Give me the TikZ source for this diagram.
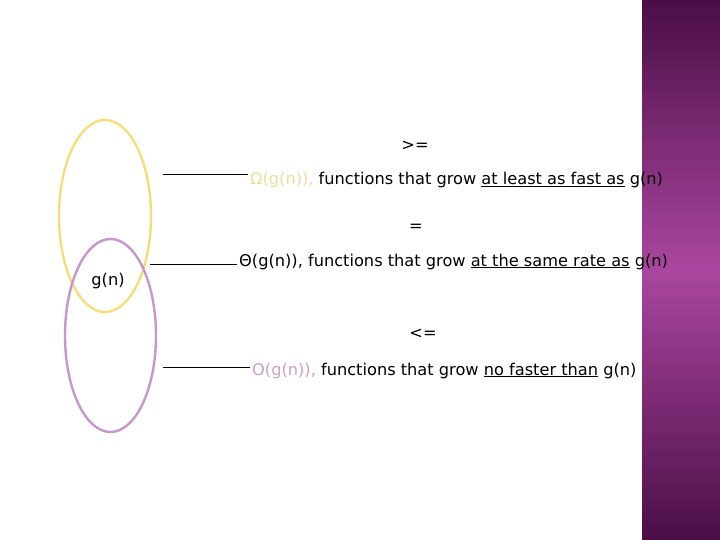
\documentclass[tikz,border=0pt]{standalone}
\usepackage{fontspec}
\setmainfont{DejaVu Sans}
\usetikzlibrary{positioning,calc}
\definecolor{bandtop}{RGB}{74,14,70}
\definecolor{bandmid}{RGB}{170,70,159}
\definecolor{setyellow}{RGB}{245,222,120}
\definecolor{setpurple}{RGB}{200,150,200}
\definecolor{omegayellow}{RGB}{235,222,150}
\definecolor{bigopink}{RGB}{200,160,200}

\tikzset{
    settext/.style={inner sep=0pt, font=\fontsize{16.2}{19}\selectfont},
    relation/.style={settext, anchor=base},
    growtext/.style={settext, inner xsep=2pt, anchor=base west},
    setring/.style={line width=2.4pt},
    leader/.style={line width=0.8pt, black}
}

\begin{document}
\begin{tikzpicture}[x=1pt,y=-1pt]
        \useasboundingbox (0,0) rectangle (720,540);
        % purple band on the right
        \shade[top color=bandtop, bottom color=bandtop, middle color=bandmid] (642,0) rectangle (720,540);

        % the two sets
        \draw[setring, setyellow] (105,216) ellipse [x radius=46, y radius=96];
        \draw[setring, setpurple] (110.5,335.5) ellipse [x radius=45.5, y radius=96.5];
        \node[settext] (gn) at (108,281) {g(n)};

        % relations
        \node[relation] (ge) at (415,151) {>=};
        \node[relation] (eq) at (416,231) {=};
        \node[relation] (le) at (423,338) {<=};

        % descriptions
        \node[growtext] (omega) at (248,185) {\textcolor{omegayellow}{Ω(g(n)),} functions that grow \underline{at least as fast as} g(n)};
        \node[growtext] (theta) at (237,266) {Θ(g(n)), functions that grow \underline{at the same rate as} g(n)};
        \node[growtext] (bigo) at (250,375) {\textcolor{bigopink}{O(g(n)),} functions that grow \underline{no faster than} g(n)};

        % leader lines
        \coordinate (omegaL) at (163,174);
        \coordinate (thetaL) at (150,264);
        \coordinate (bigoL) at (163,367);
        \draw[leader] (omegaL) -- (omegaL -| omega.west);
        \draw[leader] (thetaL) -- (thetaL -| theta.west);
        \draw[leader] (bigoL) -- (bigoL -| bigo.west);
    \end{tikzpicture}
\end{document}
